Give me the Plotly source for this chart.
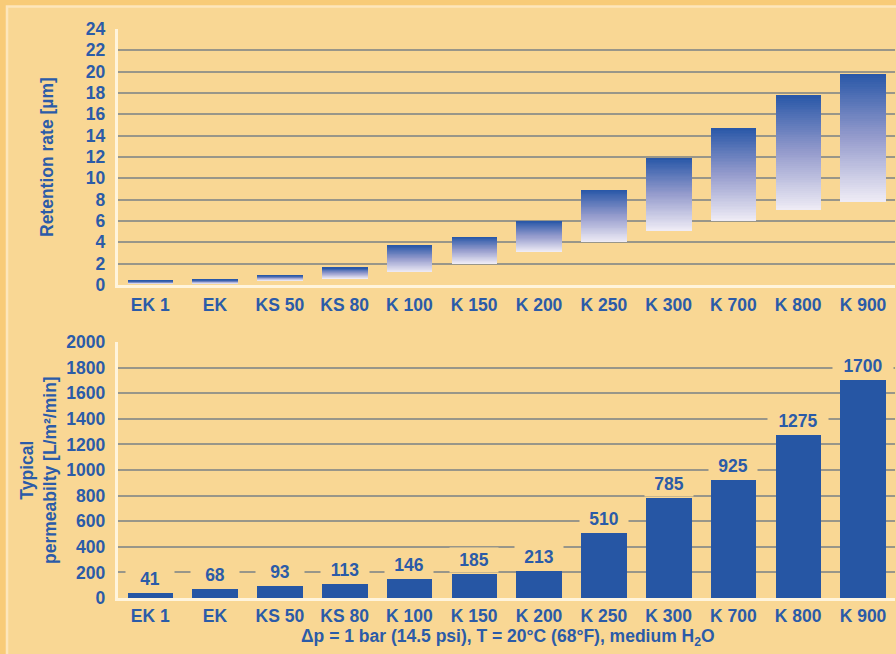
import plotly.graph_objects as go

# Filter grades
grades = ["EK 1", "EK", "KS 50", "KS 80", "K 100", "K 150", "K 200",
          "K 250", "K 300", "K 700", "K 800", "K 900"]

# Retention rate band per grade [µm]: lower and upper limit
retention_low = [0.1, 0.1, 0.4, 0.6, 1.2, 2.0, 3.1, 4.0, 5.1, 6.0, 7.0, 7.8]
retention_high = [0.4, 0.5, 0.9, 1.6, 3.7, 4.5, 6.0, 8.9, 11.9, 14.7, 17.8, 19.8]

# Typical permeability [L/m²/min] at 1 bar, 20 °C, water
permeability = [41, 68, 93, 113, 146, 185, 213, 510, 785, 925, 1275, 1700]

retention_ticks = list(range(0, 25, 2))
permeability_ticks = list(range(0, 2001, 200))

W, H = 896, 654
OUTER = "#F8CB78"
PANEL = "#F9D794"
PANEL_EDGE = "#FDE6BB"
BLUE = "#2656A4"
TEXT = "#2B5BA8"
GRID = "#999689"
AXIS = "#FFF4DC"
FONT = "Liberation Sans, Arial, sans-serif"
FS = 17.5
FW = "bold"

# gradient stops for the retention bands (0 = bottom, 1 = top)
STOPS = [(0.0, (238, 235, 245)), (0.5, (150, 156, 205)), (1.0, (42, 88, 168))]


def grad_color(t):
    for (t0, c0), (t1, c1) in zip(STOPS[:-1], STOPS[1:]):
        if t <= t1:
            f = (t - t0) / (t1 - t0)
            c = [round(a + (b - a) * f) for a, b in zip(c0, c1)]
            return "rgb(%d,%d,%d)" % tuple(c)
    return "rgb(%d,%d,%d)" % STOPS[-1][1]


def px_x(v):
    return v / W


def px_y(v):
    return 1 - v / H


def font(size=FS):
    return dict(family=FONT, size=size, color=TEXT, weight=FW)


fig = go.Figure()

# Retention bands: layered bars, each one starting a little higher with a darker shade
N = 60
for i in range(N):
    t = i / (N - 1)
    bases = [lo + (hi - lo) * i / N for lo, hi in zip(retention_low, retention_high)]
    heights = [hi - b for b, hi in zip(bases, retention_high)]
    fig.add_trace(go.Bar(
        x=grades, y=heights, base=bases, width=0.705,
        marker=dict(color=grad_color(t), line=dict(width=0)),
        xaxis="x", yaxis="y", showlegend=False, hoverinfo="skip",
    ))

# Permeability bars
fig.add_trace(go.Bar(
    x=grades, y=permeability, width=0.705,
    marker=dict(color=BLUE, line=dict(width=0)),
    xaxis="x2", yaxis="y2", showlegend=False,
))

x_dom = [117.8 / W, 895.4 / W]
axis_common = dict(
    showline=True, linecolor=AXIS, linewidth=3,
    tickfont=font(), automargin=False,
    zeroline=False, fixedrange=True,
)

annotations = []
for g, v in zip(grades, permeability):
    label = str(v)
    annotations.append(dict(
        x=g, y=v, xref="x2", yref="y2", text=label, showarrow=False,
        yshift=14, font=font(), bgcolor=PANEL, borderpad=2,
        width=56 if len(label) > 3 else 44,
        xanchor="center", yanchor="middle",
    ))

annotations += [
    dict(x=px_x(47), y=px_y(157), xref="paper", yref="paper",
         text="Retention rate [µm]", textangle=-90, showarrow=False,
         font=font(), xanchor="center", yanchor="middle"),
    dict(x=px_x(39), y=px_y(470), xref="paper", yref="paper",
         text="Typical<br>permeabilty [L/m²/min]", textangle=-90,
         showarrow=False, font=font(),
         xanchor="center", yanchor="middle"),
    dict(x=px_x(508), y=px_y(637), xref="paper", yref="paper",
         text="Δp = 1 bar (14.5 psi), T = 20°C (68°F), medium H<sub>2</sub>O",
         showarrow=False, font=font(),
         xanchor="center", yanchor="middle"),
]

fig.update_layout(
    width=W, height=H,
    margin=dict(l=0, r=0, t=0, b=0, pad=0, autoexpand=False),
    paper_bgcolor=OUTER, plot_bgcolor="rgba(0,0,0,0)",
    barmode="overlay", bargap=0,
    xaxis=dict(domain=x_dom, anchor="y", type="category", range=[-0.5, 11.5],
               showgrid=False, ticks="", ticklabelstandoff=2, **axis_common),
    yaxis=dict(domain=[px_y(285), px_y(29)], anchor="x", range=[0, 24],
               tickvals=retention_ticks, showgrid=True, gridcolor=GRID,
               gridwidth=1.8, ticks="", ticklabelstandoff=6, **axis_common),
    xaxis2=dict(domain=x_dom, anchor="y2", type="category", range=[-0.5, 11.5],
                showgrid=False, ticks="", ticklabelstandoff=0, **axis_common),
    yaxis2=dict(domain=[px_y(598), px_y(342)], anchor="x2", range=[0, 2000],
                tickvals=permeability_ticks, showgrid=True, gridcolor=GRID,
                gridwidth=1.8, ticks="", ticklabelstandoff=6, **axis_common),
    annotations=annotations,
    shapes=[dict(type="rect", xref="paper", yref="paper", layer="below",
                 x0=px_x(7), x1=px_x(W + 10), y0=px_y(H + 10), y1=px_y(6.5),
                 fillcolor=PANEL, line=dict(color=PANEL_EDGE, width=2.5))],
)

fig.write_html("out.html", config={"displayModeBar": False})
